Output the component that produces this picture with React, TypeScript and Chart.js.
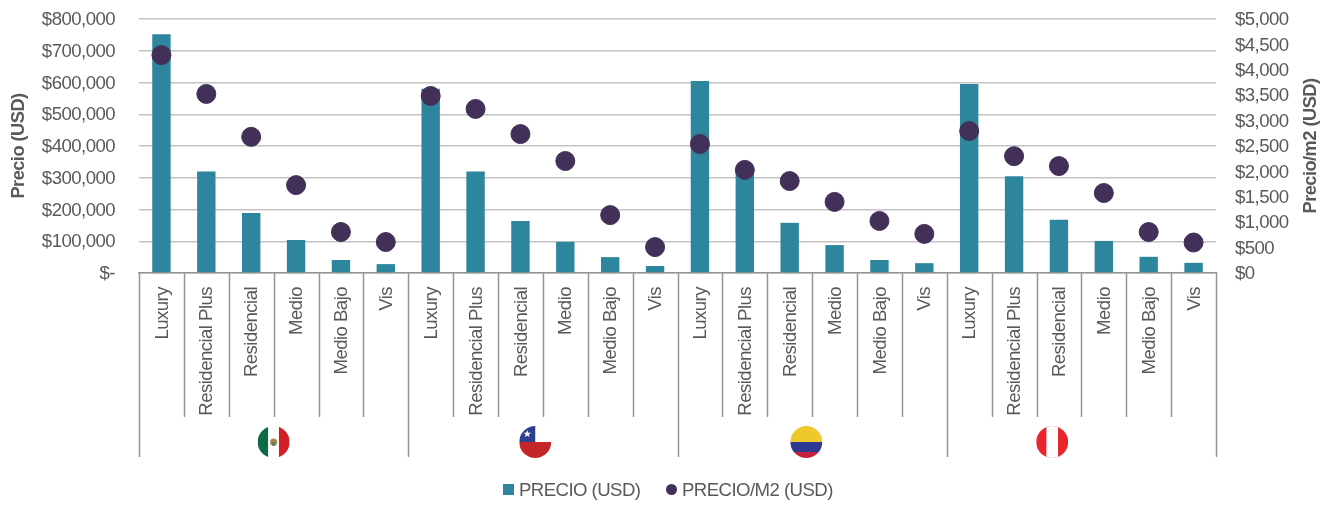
import React, { useEffect, useRef } from "react";
import { Chart, registerables } from "chart.js";

Chart.register(...registerables);

const segments = ["Luxury", "Residencial Plus", "Residencial", "Medio", "Medio Bajo", "Vis"];
const categories = [...segments, ...segments, ...segments, ...segments];
const precioUsd = [
  752000, 320000, 189000, 104000, 41000, 28000,
  580000, 320000, 164000, 98000, 50000, 22000,
  605000, 320000, 158000, 88000, 41000, 31000,
  595000, 305000, 168000, 101000, 51000, 32000,
];
const precioM2 = [
  4290, 3525, 2680, 1730, 807, 610,
  3485, 3230, 2735, 2205, 1140, 510,
  2540, 2030, 1810, 1400, 1025, 770,
  2795, 2300, 2105, 1575, 807, 600,
];
const countries = ["mexico", "chile", "colombia", "peru"];

const FONT = "'Liberation Sans', Arial, sans-serif";
const FONT_SIZE = 18.6;
const TEXT = "#595959";
const GRID = "#C4C4C4";
const AXIS = "#959595";
const BAR = "#2E869E";
const DOT = "#423058";
const FLAG_AT: Record<string, number> = { mexico: 2.5, chile: 8.33, colombia: 14.37, peru: 19.85 };

function drawFlag(ctx: CanvasRenderingContext2D, name: string, cx: number, cy: number, r: number) {
  ctx.save();
  ctx.beginPath();
  ctx.arc(cx, cy, r, 0, Math.PI * 2);
  ctx.clip();
  const l = cx - r, t = cy - r, d = 2 * r;
  const rect = (c: string, x: number, y: number, w: number, h: number) => {
    ctx.fillStyle = c;
    ctx.fillRect(x, y, w, h);
  };
  if (name === "mexico") {
    rect("#0B6B45", l, t, d / 3, d);
    rect("#FFFFFF", l + d / 3, t, d / 3, d);
    rect("#D21F26", l + (2 * d) / 3, t, d / 3, d);
    ctx.fillStyle = "#A8865A";
    ctx.beginPath();
    ctx.arc(cx, cy, 3.6, 0, Math.PI * 2);
    ctx.fill();
    ctx.fillStyle = "#5E7A4E";
    ctx.beginPath();
    ctx.arc(cx, cy + 2, 2, 0, Math.PI * 2);
    ctx.fill();
  } else if (name === "chile") {
    rect("#FFFFFF", l, t, d, r);
    rect("#C5262A", l, cy, d, r);
    rect("#2B3F8F", l, t, r, r);
    ctx.fillStyle = "#FFFFFF";
    ctx.beginPath();
    const sx = cx - r / 2, sy = cy - r / 2;
    for (let i = 0; i < 10; i++) {
      const a = -Math.PI / 2 + (i * Math.PI) / 5;
      const q = i % 2 ? 1.6 : 4;
      ctx.lineTo(sx + q * Math.cos(a), sy + q * Math.sin(a));
    }
    ctx.closePath();
    ctx.fill();
  } else if (name === "colombia") {
    rect("#EEC92B", l, t, d, r);
    rect("#2B3990", l, cy, d, 10);
    rect("#C4213F", l, cy + 10, d, r);
  } else {
    rect("#E9252B", l, t, d, d);
    rect("#FFFFFF", cx - r / 3 - 0.5, t, (2 * r) / 3 + 1, d);
  }
  ctx.restore();
}

const hierarchyPlugin = {
  id: "hierarchy",
  beforeDraw(chart: any) {
    chart.ctx.letterSpacing = "-0.55px";
  },
  afterDraw(chart: any) {
    const { ctx, scales } = chart;
    const x = scales.x;
    const top = x.top;
    const step = (x.right - x.left) / categories.length;
    ctx.save();
    ctx.strokeStyle = AXIS;
    ctx.lineWidth = 1.5;
    for (let i = 0; i <= categories.length; i++) {
      const px = Math.round(x.left + i * step);
      const group = i % segments.length === 0;
      ctx.beginPath();
      ctx.moveTo(px + 0.5, top);
      ctx.lineTo(px + 0.5, top + (group ? 184 : 144));
      ctx.stroke();
    }
    ctx.restore();
    countries.forEach((c) => {
      drawFlag(ctx, c, x.getPixelForValue(FLAG_AT[c]), top + 169, 16);
    });

    // right axis title, reading bottom to top
    ctx.save();
    ctx.translate(1311, 146);
    ctx.rotate(-Math.PI / 2);
    ctx.font = `bold 18.3px ${FONT}`;
    ctx.fillStyle = TEXT;
    ctx.textAlign = "center";
    ctx.textBaseline = "middle";
    ctx.fillText("Precio/m2 (USD)", 0, 0);
    ctx.restore();

    // legend
    ctx.save();
    ctx.font = `${FONT_SIZE}px ${FONT}`;
    ctx.textBaseline = "middle";
    ctx.textAlign = "left";
    ctx.fillStyle = BAR;
    ctx.fillRect(503, 484, 11, 11);
    ctx.fillStyle = DOT;
    ctx.beginPath();
    ctx.arc(671.5, 489.5, 5.5, 0, Math.PI * 2);
    ctx.fill();
    ctx.fillStyle = TEXT;
    ctx.fillText("PRECIO (USD)", 519, 491);
    ctx.fillText("PRECIO/M2 (USD)", 682, 491);
    ctx.restore();
  },
};

export default function App() {
  const ref = useRef<HTMLCanvasElement>(null);
  useEffect(() => {
    const chart = new Chart(ref.current!, {
      type: "bar",
      plugins: [hierarchyPlugin],
      data: {
        labels: categories,
        datasets: [
          {
            type: "line",
            label: "PRECIO/M2 (USD)",
            data: precioM2,
            yAxisID: "yR",
            showLine: false,
            pointRadius: 9.5,
            pointHoverRadius: 9.5,
            pointBackgroundColor: DOT,
            pointBorderColor: DOT,
            backgroundColor: DOT,
            borderColor: DOT,
            order: 1,
          },
          {
            type: "bar",
            label: "PRECIO (USD)",
            data: precioUsd,
            yAxisID: "y",
            backgroundColor: BAR,
            barPercentage: 0.41,
            categoryPercentage: 1,
            order: 2,
          },
        ],
      } as any,
      options: {
        responsive: false,
        animation: false,
        layout: { padding: { top: 19, left: 8, right: 8, bottom: 38 } },
        plugins: {
          tooltip: { enabled: false },
          legend: { display: false },
        },
        scales: {
          x: {
            offset: true,
            grid: { display: false, drawTicks: false },
            border: { color: AXIS, width: 1.5 },
            afterFit(s: any) {
              s.height = 194;
              s.paddingLeft = 0;
              s.paddingRight = 0;
            },
            ticks: {
              autoSkip: false,
              minRotation: 90,
              maxRotation: 90,
              padding: 14,
              labelOffset: 1,
              color: TEXT,
              font: { family: FONT, size: FONT_SIZE },
            },
          },
          y: {
            position: "left",
            min: 0,
            max: 800000,
            afterFit(s: any) {
              s.width = 131;
              s.paddingTop = 0;
              s.paddingBottom = 0;
            },
            grid: { color: GRID, lineWidth: 1.5, drawTicks: false },
            border: { display: false },
            title: { display: true, text: "Precio (USD)", color: TEXT, font: { family: FONT, size: 18.3, weight: "bold" }, padding: 0 },
            ticks: {
              stepSize: 100000,
              padding: 24,
              labelOffset: 1,
              color: TEXT,
              font: { family: FONT, size: FONT_SIZE },
              callback: (v: any) => (v === 0 ? "$-" : "$" + Number(v).toLocaleString("en-US")),
            },
          },
          yR: {
            position: "right",
            min: 0,
            max: 5000,
            afterFit(s: any) {
              s.width = 110;
              s.paddingTop = 0;
              s.paddingBottom = 0;
            },
            grid: { display: false, drawTicks: false },
            border: { display: false },
            ticks: {
              stepSize: 500,
              padding: 19,
              labelOffset: 1,
              color: TEXT,
              font: { family: FONT, size: FONT_SIZE },
              callback: (v: any) => "$" + Number(v).toLocaleString("en-US"),
            },
          },
        },
      } as any,
    });
    return () => chart.destroy();
  }, []);
  return (
    <div style={{ position: "fixed", left: 0, top: 0, width: 1334, height: 505, background: "#fff" }}>
      <canvas ref={ref} width={1334} height={505} style={{ display: "block" }} />
    </div>
  );
}
